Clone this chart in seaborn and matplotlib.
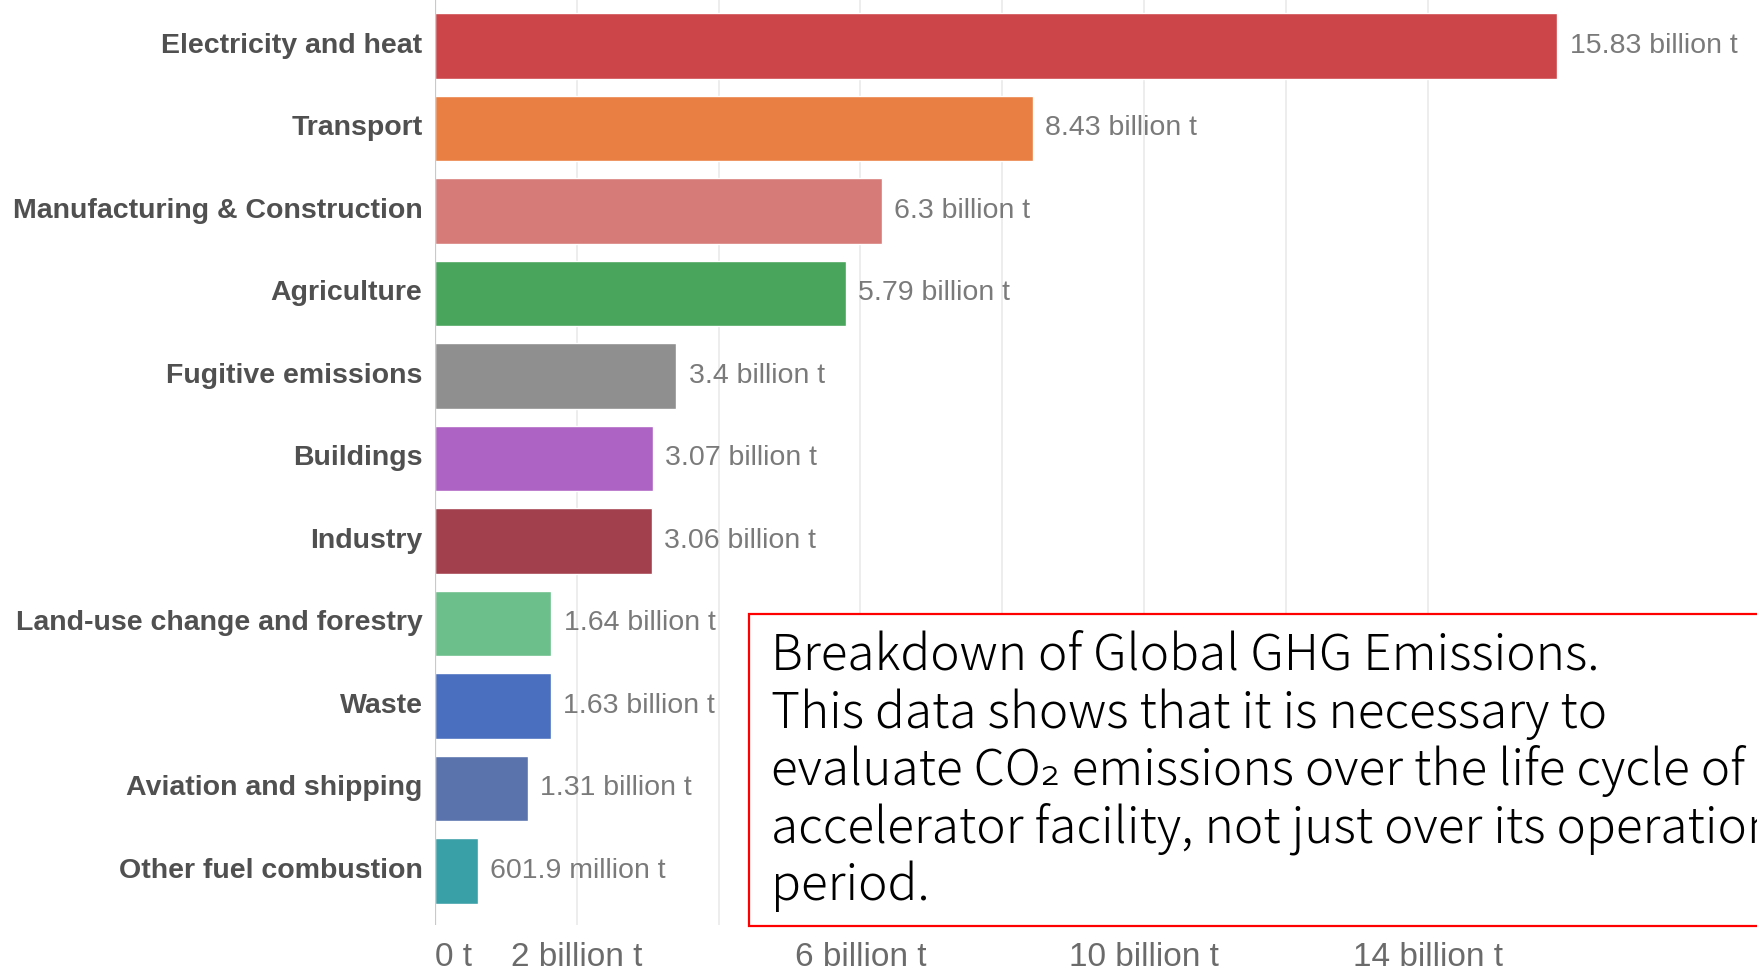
import matplotlib
matplotlib.use("Agg")
import matplotlib.pyplot as plt
import matplotlib.patches as mpatches
import matplotlib.transforms as mtransforms
import seaborn as sns
import pandas as pd

# Global greenhouse gas emissions by sector (billion tonnes CO2-equivalent)
sectors = [
    "Electricity and heat",
    "Transport",
    "Manufacturing & Construction",
    "Agriculture",
    "Fugitive emissions",
    "Buildings",
    "Industry",
    "Land-use change and forestry",
    "Waste",
    "Aviation and shipping",
    "Other fuel combustion",
]
emissions_bn_t = [15.83, 8.43, 6.3, 5.79, 3.4, 3.07, 3.06, 1.64, 1.63, 1.31, 0.6019]
bar_colors = [
    "#cc4548", "#ea7f43", "#d67b77", "#49a55c", "#8f8f8f", "#ad63c3",
    "#a3404d", "#6cbf8a", "#4a6fbf", "#5a73ad", "#3aa0a7",
]
tick_values = [0, 2, 4, 6, 8, 10, 12, 14]
tick_labels = ["0 t", "2 billion t", "", "6 billion t", "", "10 billion t", "", "14 billion t"]

note_lines = [
    "Breakdown of Global GHG Emissions.",
    "This data shows that it is necessary to",
    "evaluate CO\u2082 emissions over the life cycle of",
    "accelerator facility, not just over its operation",
    "period.",
]

W, H = 1757, 973
DPI = 100
sns.set_theme(style="white")
plt.rcParams["font.family"] = ["Liberation Sans", "DejaVu Sans"]

fig = plt.figure(figsize=(W / DPI, H / DPI), dpi=DPI)
fig.patch.set_facecolor("white")

px_per_bn = 70.9
ax_left, ax_top, ax_bottom = 435, 0, 925
ax = fig.add_axes([ax_left / W, 1 - ax_bottom / H, (W - ax_left) / W, (ax_bottom - ax_top) / H])

df = pd.DataFrame({"sector": sectors, "value": emissions_bn_t})
sns.barplot(
    data=df, x="value", y="sector", hue="sector", order=sectors, hue_order=sectors,
    palette=dict(zip(sectors, bar_colors)), orient="h", width=0.79,
    saturation=1, legend=False, ax=ax, zorder=3,
)

ax.set_xlim(0, (W - ax_left) / px_per_bn)
spacing = 82.5
ax.set_ylim(10 + (ax_bottom - 871) / spacing, -(46 - ax_top) / spacing)

# gridlines and baseline
for v in tick_values[1:]:
    ax.axvline(v, color="#ededed", lw=1.4, zorder=1)
ax.axvline(0, color="#c9c9c9", lw=1.6, zorder=4)

ax.set_xticks(tick_values)
ax.set_xticklabels(tick_labels)
ax.tick_params(axis="x", length=0, pad=12, labelsize=24, labelcolor="#6b6b6b")
ax.get_xticklabels()[0].set_horizontalalignment("left")
ax.tick_params(axis="y", length=0, pad=9, labelsize=20.5, labelcolor="#505050")
lift = mtransforms.ScaledTranslation(0, 3 / DPI, fig.dpi_scale_trans)
for lab in ax.get_yticklabels():
    lab.set_fontweight("bold")
    lab.set_transform(lab.get_transform() + lift)
ax.set_xlabel("")
ax.set_ylabel("")
for s in ax.spines.values():
    s.set_visible(False)


def fmt(v):
    if v >= 1:
        return f"{v:g} billion t"
    return f"{v * 1000:.1f} million t"


for cont in ax.containers:
    vals = [fmt(b.get_width()) for b in cont]
    ax.bar_label(cont, labels=vals, padding=9, fontsize=20.5, color="#7a7a7a")

# annotation box
box_left, box_top, box_bottom = 749, 614, 926
fig.patches.append(mpatches.Rectangle(
    (box_left / W, 1 - box_bottom / H), (W + 40 - box_left) / W, (box_bottom - box_top) / H,
    transform=fig.transFigure, facecolor="white", edgecolor="#ff0000", lw=1.6, zorder=10,
))

note_family = ["Noto Sans CJK JP", "DejaVu Sans"]
target_width = 828
size = 36
probe = fig.text(0, 0, note_lines[0], fontsize=size, family=note_family, fontweight="light")
renderer = fig.canvas.get_renderer()
w0 = probe.get_window_extent(renderer).width
probe.remove()
size = size * target_width / w0

baseline0, line_step = 670, 57.5
for i, line in enumerate(note_lines):
    fig.text(771 / W, 1 - (baseline0 + i * line_step) / H, line, fontsize=size,
             family=note_family, fontweight="light", color="black",
             va="baseline", ha="left", zorder=11)

fig.savefig("out.png", dpi=DPI, facecolor="white")
